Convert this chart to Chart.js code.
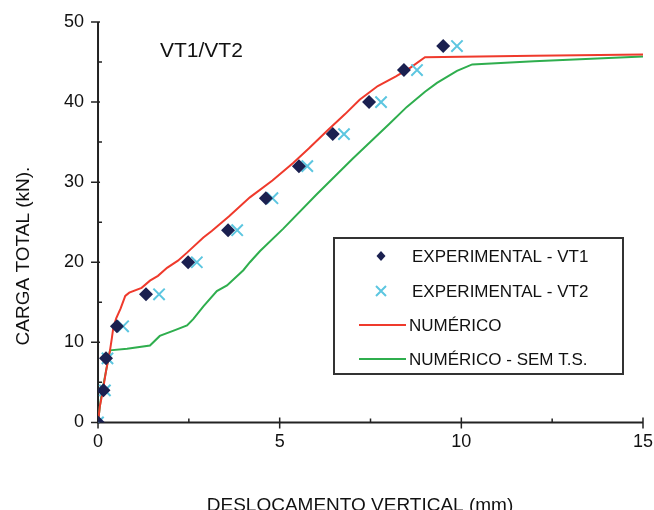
<!DOCTYPE html>
<html>
<head>
<meta charset="utf-8">
<script src="https://cdn.jsdelivr.net/npm/chart.js@4.4.1/dist/chart.umd.min.js"></script>
<style>
  html, body { margin: 0; padding: 0; background: #ffffff; }
  #wrap { width: 654px; height: 510px; }
</style>
</head>
<body>
<div id="wrap"><canvas id="c" width="654" height="510"></canvas></div>
<script>
// Load test VT1/VT2: total load vs vertical displacement
const vt1Disp = [0, 0.15, 0.22, 0.52, 1.32, 2.48, 3.58, 4.62, 5.53, 6.46, 7.46, 8.42, 9.5];
const vt1Load = [0, 4, 8, 12, 16, 20, 24, 28, 32, 36, 40, 44, 47];

const vt2Disp = [0, 0.19, 0.26, 0.69, 1.68, 2.72, 3.83, 4.8, 5.76, 6.77, 7.79, 8.78, 9.88];
const vt2Load = [0, 4, 8, 12, 16, 20, 24, 28, 32, 36, 40, 44, 47];

const numDisp = [0, 0.05, 0.12, 0.22, 0.3, 0.33, 0.38, 0.42, 0.5, 0.62, 0.75, 0.86, 1.2, 1.43, 1.65, 1.9, 2.2, 2.45, 2.9, 3.13, 3.6, 4.18, 4.8, 5.37, 5.8, 6.3, 6.8, 7.2, 7.7, 8.2, 8.6, 9.0, 12, 15];
const numLoad = [0, 2, 3.6, 6.4, 8.3, 9.0, 10.5, 11.8, 13.0, 14.2, 15.8, 16.2, 16.8, 17.7, 18.3, 19.3, 20.2, 21.2, 23.1, 23.9, 25.7, 28.1, 30.2, 32.4, 34.2, 36.4, 38.5, 40.3, 42.0, 43.2, 44.3, 45.6, 45.8, 45.95];

const semDisp = [0, 0.05, 0.1, 0.22, 0.3, 0.33, 0.8, 1.43, 1.7, 2.1, 2.45, 2.62, 2.9, 3.27, 3.55, 4.0, 4.18, 4.46, 5.1, 6.0, 7.0, 8.0, 8.5, 9.0, 9.33, 9.88, 10.3, 12, 15];
const semLoad = [0, 2, 3.6, 6.4, 8.3, 9.0, 9.2, 9.6, 10.8, 11.5, 12.1, 12.9, 14.5, 16.4, 17.1, 19.0, 20.0, 21.4, 24.2, 28.4, 32.9, 37.2, 39.4, 41.3, 42.4, 43.9, 44.7, 45.1, 45.7];

const xTicks = [0, 5, 10, 15];
const yTicks = [0, 10, 20, 30, 40, 50];

const seriesNames = ['EXPERIMENTAL - VT1', 'EXPERIMENTAL - VT2', 'NUMÉRICO', 'NUMÉRICO - SEM T.S.'];
const panelTitle = 'VT1/VT2';
const xTitle = 'DESLOCAMENTO VERTICAL (mm)';
const yTitle = 'CARGA TOTAL (kN).';

const NAVY = '#1b2050';
const CYAN = '#5cc6e0';
const RED = '#ef3a2c';
const GREEN = '#2fae4e';
const AXIS = '#222222';
const FONT = '"Liberation Sans", Arial, sans-serif';

const pts = (xs, ys) => xs.map((x, i) => ({ x: x, y: ys[i] }));

// Axis lines, major/minor ticks, titles and the boxed legend
const decor = {
  id: 'decor',
  beforeDatasetsDraw(chart) {
    const ctx = chart.ctx;
    const xs = chart.scales.x, ys = chart.scales.y;
    const x0 = xs.getPixelForValue(0), x1 = xs.getPixelForValue(15);
    const y0 = ys.getPixelForValue(0), y1 = ys.getPixelForValue(50);
    ctx.save();
    ctx.strokeStyle = AXIS;
    ctx.lineWidth = 2;
    ctx.beginPath();
    ctx.moveTo(x0, y1); ctx.lineTo(x0, y0); ctx.lineTo(x1, y0);
    ctx.stroke();
    ctx.lineWidth = 1.5;
    ctx.beginPath();
    for (let v = 0; v <= 50; v += 5) {
      const p = ys.getPixelForValue(v);
      if (v % 10 === 0) { ctx.moveTo(x0 - 7, p); ctx.lineTo(x0 + 2, p); }
      else { ctx.moveTo(x0, p); ctx.lineTo(x0 + 4, p); }
    }
    for (let v = 0; v <= 15; v += 2.5) {
      const p = xs.getPixelForValue(v);
      if (v % 5 === 0) { ctx.moveTo(p, y0 - 5); ctx.lineTo(p, y0 + 6); }
      else { ctx.moveTo(p, y0); ctx.lineTo(p, y0 - 4); }
    }
    ctx.stroke();
    ctx.restore();
  },
  afterDraw(chart) {
    const ctx = chart.ctx;
    ctx.save();
    ctx.fillStyle = '#111';
    // panel title
    ctx.font = '21px ' + FONT;
    ctx.textAlign = 'left';
    ctx.textBaseline = 'middle';
    ctx.fillText(panelTitle, 160, 51);
    // axis titles
    ctx.font = '19px ' + FONT;
    ctx.textAlign = 'center';
    ctx.textBaseline = 'alphabetic';
    ctx.fillText(xTitle, 360, 511);
    ctx.save();
    ctx.translate(24, 256);
    ctx.rotate(-Math.PI / 2);
    ctx.textBaseline = 'middle';
    ctx.fillText(yTitle, 0, 0);
    ctx.restore();

    // legend
    const bx = 334, by = 238, bw = 289, bh = 136;
    ctx.fillStyle = '#ffffff';
    ctx.fillRect(bx, by, bw, bh);
    ctx.strokeStyle = '#333';
    ctx.lineWidth = 2;
    ctx.strokeRect(bx, by, bw, bh);
    const rows = [256, 291, 325, 359];
    const mx = 381;
    // diamond
    ctx.fillStyle = NAVY;
    ctx.beginPath();
    ctx.moveTo(mx, rows[0] - 5); ctx.lineTo(mx + 4.5, rows[0]); ctx.lineTo(mx, rows[0] + 5); ctx.lineTo(mx - 4.5, rows[0]);
    ctx.closePath(); ctx.fill();
    // cross
    ctx.strokeStyle = CYAN; ctx.lineWidth = 2;
    ctx.beginPath();
    ctx.moveTo(mx - 5, rows[1] - 5); ctx.lineTo(mx + 5, rows[1] + 5);
    ctx.moveTo(mx + 5, rows[1] - 5); ctx.lineTo(mx - 5, rows[1] + 5);
    ctx.stroke();
    // lines
    ctx.lineWidth = 2;
    ctx.strokeStyle = RED;
    ctx.beginPath(); ctx.moveTo(359, rows[2]); ctx.lineTo(406, rows[2]); ctx.stroke();
    ctx.strokeStyle = GREEN;
    ctx.beginPath(); ctx.moveTo(359, rows[3]); ctx.lineTo(406, rows[3]); ctx.stroke();
    ctx.fillStyle = '#111';
    ctx.font = '17px ' + FONT;
    ctx.textAlign = 'left';
    ctx.textBaseline = 'middle';
    seriesNames.forEach((s, i) => ctx.fillText(s, i < 2 ? 412 : 409, rows[i] + 1));
    ctx.restore();
  }
};

new Chart(document.getElementById('c'), {
  type: 'scatter',
  data: {
    datasets: [
      { label: seriesNames[2], data: pts(numDisp, numLoad), showLine: true, borderColor: RED, borderWidth: 2, pointRadius: 0, tension: 0, order: 3 },
      { label: seriesNames[3], data: pts(semDisp, semLoad), showLine: true, borderColor: GREEN, borderWidth: 2, pointRadius: 0, tension: 0, order: 4 },
      { label: seriesNames[1], data: pts(vt2Disp, vt2Load), pointStyle: 'crossRot', pointRadius: 8, borderColor: CYAN, borderWidth: 2, showLine: false, order: 2 },
      { label: seriesNames[0], data: pts(vt1Disp, vt1Load), pointStyle: 'rectRot', pointRadius: 7, backgroundColor: NAVY, borderColor: NAVY, borderWidth: 0, showLine: false, order: 1 }
    ]
  },
  options: {
    responsive: false,
    animation: false,
    devicePixelRatio: 1,
    layout: { padding: { left: 50, right: 11, top: 22, bottom: 48 } },
    plugins: { legend: { display: false }, tooltip: { enabled: false } },
    scales: {
      x: {
        type: 'linear', min: 0, max: 15,
        afterBuildTicks: (s) => { s.ticks = xTicks.map(v => ({ value: v })); },
        afterFit: (s) => { s.paddingLeft = 0; s.paddingRight = 0; },
        grid: { display: false, drawTicks: false },
        border: { display: false },
        ticks: { color: '#111', font: { family: FONT, size: 18 }, padding: 9 }
      },
      y: {
        type: 'linear', min: 0, max: 50,
        afterBuildTicks: (s) => { s.ticks = yTicks.map(v => ({ value: v })); },
        afterFit: (s) => { s.paddingTop = 0; s.paddingBottom = 0; },
        grid: { display: false, drawTicks: false },
        border: { display: false },
        ticks: { color: '#111', font: { family: FONT, size: 18 }, padding: 14 }
      }
    }
  },
  plugins: [decor]
});
</script>
</body>
</html>
